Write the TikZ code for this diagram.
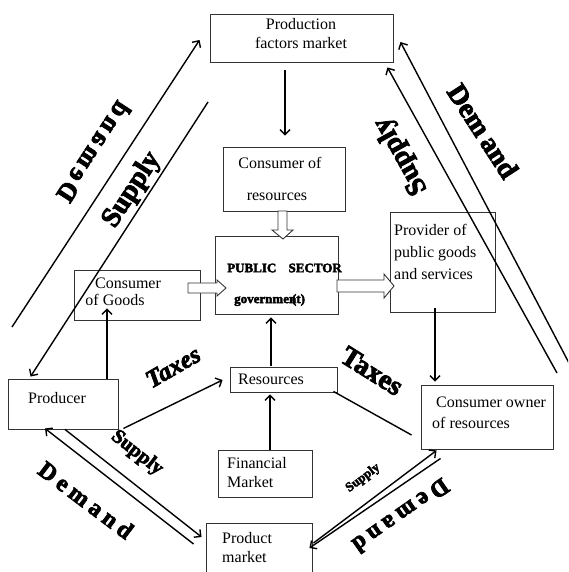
\documentclass[tikz,border=0pt]{standalone}
\usepackage{fontspec}
\setmainfont{Liberation Serif}
\newfontfamily\heavyfont[FakeBold=3]{Liberation Serif Bold}
\newfontfamily\heavyitfont[FakeBold=3]{Liberation Serif Bold Italic}
\usetikzlibrary{arrows.meta,calc}
\newcommand\spacedDemand[1]{D\kern#1 e\kern#1 m\kern#1 a\kern#1 n\kern#1 d}
\begin{document}
\begin{tikzpicture}[x=1pt,y=-1pt,
  box/.style={draw=black!80,line width=0.9pt,inner sep=0pt,minimum width=#1},
  txt/.style={inner sep=0pt,font=\fontsize{16}{19}\selectfont},
  arr/.style={line width=1.4pt,-{Straight Barb[length=5pt,width=10pt]}},
  ln/.style={line width=1.4pt},
  lab/.style={inner sep=0pt,font=\heavyfont\fontsize{#1}{#1}\selectfont},
  hollow/.style={draw=black!80,line width=0.9pt,fill=white}]
\clip (0,0) rectangle (568,572);
% boxes
\node[box=183pt,minimum height=48pt] (pfm) at (301.5,38) {};
\node[box=122pt,minimum height=64pt] (cor) at (284,179) {};
\node[box=123pt,minimum height=78pt] (ps) at (276.5,275) {};
\node[box=126pt,minimum height=50pt] (cog) at (137,295) {};
\node[box=105pt,minimum height=100pt] (prov) at (442.5,262) {};
\node[box=107pt,minimum height=25pt] (res) at (283.5,379.5) {};
\node[box=110pt,minimum height=50pt] (prod) at (63,404) {};
\node[box=94pt,minimum height=47pt] (fm) at (265,473.5) {};
\node[box=106pt,minimum height=60pt] (pm) at (259,553) {};
\node[box=132pt,minimum height=64pt] (coor) at (487,417) {};
% box texts
\node[txt,align=center] (tpfm) at (301,34) {Production\\factors market};
\node[txt] (tcor1) at (280,163) {Consumer of};
\node[txt] (tcor2) at (277,197) {resources};
\node[inner sep=0pt,anchor=west,font=\heavyfont\fontsize{13}{13}\selectfont] (tps1) at (227,268) {PUBLIC\hspace{9pt} SECTOR};
\node[inner sep=0pt,anchor=west,font=\heavyfont\fontsize{13}{13}\selectfont] (tps2) at (234,300) {governmen\llap{(}t)};
\node[txt] (tcog1) at (128,283) {Consumer};
\node[txt] (tcog2) at (115,300) {of Goods};
\node[txt,align=left,anchor=west,font=\fontsize{16}{22}\selectfont] (tprov) at (394,252) {Provider of\\public goods\\and services};
\node[txt] (tres) at (271,379) {Resources};
\node[txt] (tprod) at (57,398) {Producer};
\node[txt,align=left,anchor=west] (tfm) at (227,473) {Financial\\Market};
\node[txt,align=left,anchor=west] (tpm) at (222,548) {Product\\market};
\node[txt,anchor=west] (tcoor1) at (436,402) {Consumer owner};
\node[txt,anchor=west] (tcoor2) at (432,423) {of resources};
% hollow arrows
\path[hollow] (188,283) -- (217,283) -- (217,280) -- (226,288) -- (217,296) -- (217,293) -- (188,293) -- cycle;
\path[hollow] (337,280) -- (384,280) -- (384,274) -- (394,286) -- (384,298) -- (384,292) -- (337,292) -- cycle;
\path[hollow] (278,211) -- (278,230) -- (272,230) -- (283,239) -- (293,230) -- (287,230) -- (287,211) -- cycle;
% free ends
\coordinate (lD) at (12,327);
\coordinate (lS) at (208,102);
\coordinate (rS) at (557,373);
\coordinate (rD) at (569,363);
% connectors
\draw[arr] ($(pfm.south)+(-16.5,8)$) -- ($(cor.north)+(1,-11)$);
\draw[arr] ($(res.north)+(-12.5,-1)$) -- ($(ps.south)+(-5.5,3)$);
\draw[arr] ($(fm.north)+(5,0)$) -- ($(res.south)+(-13.5,2)$);
\draw[arr] ($(prod.north)+(44,0)$) -- ($(cog.south)+(-30,-12)$);
\draw[arr] ($(prov.south)+(-7.5,-4)$) -- ($(coor.north)+(-52,-3)$);
\draw[arr] ($(prod.south east)+(5,-1)$) -- ($(res.west)+(-7,0.5)$);
\draw[ln] ($(res.south east)+(-4,-1)$) -- ($(coor.west)+(-9,18)$);
\draw[arr] ($(pm.west)+(-12,-9)$) -- ($(prod.south)+(-18,-1)$);
\draw[arr] ($(prod.south)+(2,0)$) -- ($(pm.west)+(-4,-16)$);
\draw[arr] ($(pm.east)+(1,-10)$) -- ($(coor.south west)+(16,1)$);
\draw[arr] ($(coor.south west)+(20,9)$) -- ($(pm.east)+(-3,-5)$);
\draw[arr] (lD) -- ($(pfm.west)+(-10,2)$);
\draw[arr] (lS) -- ($(prod.north west)+(23,-2)$);
\draw[arr] (rS) -- ($(pfm.south east)+(-6,5)$);
\draw[arr] (rD) -- ($(pfm.east)+(7,4)$);
% labels
\node[lab=26,rotate=57] (l1) at (94,152) {\scalebox{1}[-1]{\spacedDemand{4pt}}};
\node[lab=28,rotate=57] (l2) at (132,190) {Supply};
\node[lab=28,rotate=119] (l3) at (401,156) {Supply};
\node[lab=28,rotate=-57] (l4) at (483,131) {Dem\kern5pt and};
\node[lab=24,rotate=-37] (l5) at (86,500) {\spacedDemand{5pt}};
\node[lab=24,rotate=215] (l6) at (401,516) {\spacedDemand{5pt}};
\node[lab=20,rotate=-38] (l7) at (137,453) {Supply};
\node[lab=13,rotate=37] (l8) at (363,478) {Supply};
\node[inner sep=0pt,rotate=30,font=\heavyitfont\fontsize{25}{25}\selectfont] (l9) at (173,367) {Taxes};
\node[lab=28,rotate=-32] (l10) at (372,371) {Taxes};
\end{tikzpicture}
\end{document}
